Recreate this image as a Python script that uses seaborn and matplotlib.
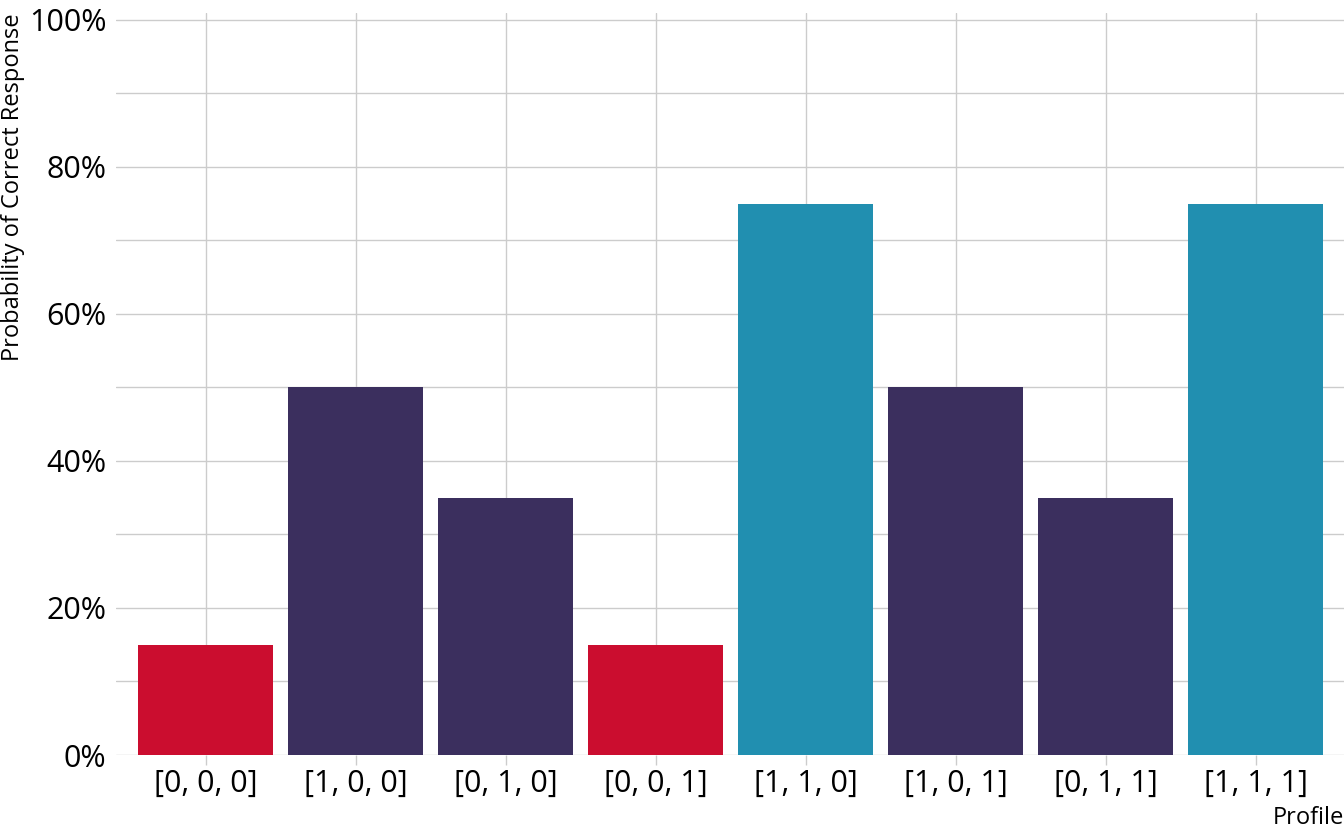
import numpy as np
import pandas as pd
import matplotlib
matplotlib.use('Agg')
import matplotlib.pyplot as plt
import matplotlib.ticker as mticker
import seaborn as sns

profiles = ['[0, 0, 0]', '[1, 0, 0]', '[0, 1, 0]', '[0, 0, 1]',
            '[1, 1, 0]', '[1, 0, 1]', '[0, 1, 1]', '[1, 1, 1]']
prob_correct = [0.15, 0.50, 0.35, 0.15, 0.75, 0.50, 0.35, 0.75]
groups = ['low', 'mid', 'mid', 'low', 'high', 'mid', 'mid', 'high']
group_colors = {'low': '#CB0D2F', 'mid': '#3B2F5E', 'high': '#218FB0'}

df = pd.DataFrame({'profile': profiles, 'prob': prob_correct, 'group': groups})

sns.set_theme(style='whitegrid')
plt.rcParams['font.family'] = ['Open Sans', 'DejaVu Sans']

fig = plt.figure(figsize=(13.44, 8.3), dpi=100)
ax = fig.add_axes([116 / 1344, 75 / 830, 1 - 116 / 1344, (755 - 13) / 830])

sns.barplot(data=df, x='profile', y='prob', hue='group', palette=group_colors,
            dodge=False, width=0.9, saturation=1, legend=False,
            edgecolor='none', linewidth=0, ax=ax)

ax.set_xlim(-0.6, 7.59)
ax.set_ylim(0, 1.0095)
ax.yaxis.set_major_locator(mticker.MultipleLocator(0.2))
ax.yaxis.set_minor_locator(mticker.MultipleLocator(0.1))
ax.yaxis.set_major_formatter(mticker.PercentFormatter(1.0, decimals=0))
ax.grid(True, which='major', color='#CCCCCC', linewidth=1)
ax.grid(True, which='minor', axis='y', color='#CCCCCC', linewidth=1)
ax.set_axisbelow(True)
for s in ax.spines.values():
    s.set_visible(False)

ax.tick_params(axis='x', which='major', length=7, width=1, color='#CCCCCC',
               labelsize=22, labelcolor='black', pad=3, bottom=True)
ax.tick_params(axis='y', which='both', length=0, labelsize=22,
               labelcolor='black', pad=7)

ax.set_xlabel('Profile', loc='right', fontsize=17, color='black', labelpad=5)
ax.set_ylabel('Probability of Correct Response', fontsize=17, color='black')
ax.yaxis.set_label_coords(-0.074, 1.0)
ax.yaxis.label.set_horizontalalignment('right')

fig.savefig('out.png', dpi=100)
